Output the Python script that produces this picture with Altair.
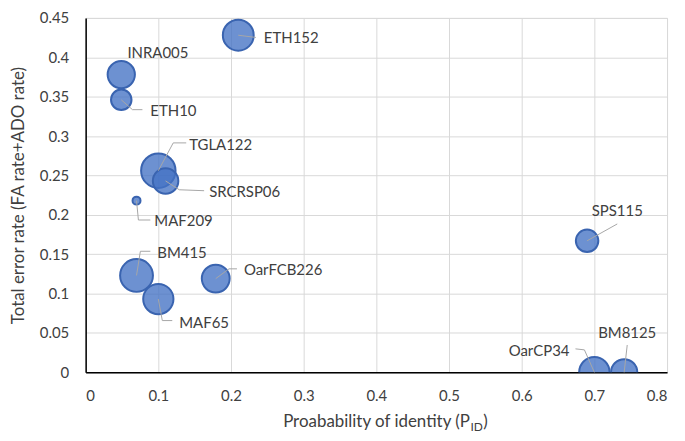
import altair as alt
import pandas as pd

# ---- data ----
markers = ["ETH152", "INRA005", "ETH10", "TGLA122", "SRCRSP06", "MAF209",
           "BM415", "MAF65", "OarFCB226", "SPS115", "OarCP34", "BM8125"]
pid = [0.210, 0.049, 0.049, 0.100, 0.110, 0.070, 0.070, 0.100, 0.179, 0.690, 0.700, 0.741]
err = [0.428, 0.378, 0.346, 0.256, 0.243, 0.218, 0.123, 0.093, 0.119, 0.167, 0.0, 0.0]
bubble = [961, 751, 424, 1197, 655, 64, 1089, 924, 784, 511, 936, 697]

# label anchor positions (data units) and alignment
label_x = [0.2452, 0.0575, 0.0890, 0.1425, 0.1699, 0.0945, 0.0986, 0.1288, 0.2178, 0.7315, 0.6658, 0.7452]
label_y = [0.4239, 0.4054, 0.3322, 0.2888, 0.2293, 0.1916, 0.1520, 0.0632, 0.1301, 0.2045, 0.0273, 0.0496]
label_align = ["left", "left", "left", "left", "left", "left", "left", "left", "left", "center", "right", "center"]

# leader lines: bubble centre -> elbow -> end (data units); None = no leader
elbow_x = [0.2342, None, 0.0644, 0.1205, 0.1288, 0.0726, 0.0753, 0.1055, 0.1973, 0.7315, 0.6863, 0.7452]
elbow_y = [0.4252, None, 0.3335, 0.2913, 0.2318, 0.1934, 0.1537, 0.0657, 0.1314, 0.1884, 0.0285, 0.0347]
end_x = [0.2342, None, 0.0781, 0.1384, 0.1630, 0.0890, 0.0890, 0.1192, 0.2082, 0.7315, 0.6740, 0.7452]
end_y = [0.4252, None, 0.3335, 0.2913, 0.2306, 0.1934, 0.1537, 0.0657, 0.1314, 0.1884, 0.0298, 0.0347]

x_ticks = [0, 0.1, 0.2, 0.3, 0.4, 0.5, 0.6, 0.7, 0.8]
y_ticks = [0, 0.05, 0.1, 0.15, 0.2, 0.25, 0.3, 0.35, 0.4, 0.45]

y_title = "Total error rate (FA rate+ADO rate)"
x_title_main = "Proabability of identity (P"
x_title_sub = "ID"
x_title_end = ")"

FONT = "Lato"
TXT = "#404040"
W, H = 584, 356

# ---- tables ----
df_b = pd.DataFrame({"marker": markers, "pid": pid, "err": err, "bubble": bubble})
df_b = df_b.sort_values("bubble", ascending=False)

df_l = pd.DataFrame({"marker": markers, "lx": label_x, "ly": label_y, "align": label_align})

rows = []
for i, m in enumerate(markers):
    if elbow_x[i] is None:
        continue
    rows.append({"marker": m, "o": 0, "x": pid[i], "y": err[i]})
    rows.append({"marker": m, "o": 1, "x": elbow_x[i], "y": elbow_y[i]})
    rows.append({"marker": m, "o": 2, "x": end_x[i], "y": end_y[i]})
df_lead = pd.DataFrame(rows)

xs = alt.Scale(domain=[0, 0.8], nice=False, zero=False)
ys = alt.Scale(domain=[0, 0.45], nice=False, zero=False)

xaxis = alt.Axis(values=x_ticks, tickCount=len(x_ticks), format="~g", title=None, ticks=False,
                 labelPadding=16, labelOverlap=False,
                 labelFontSize=15, labelFont=FONT, labelColor=TXT, grid=True,
                 gridColor="#D9D9D9", domainColor="#000000", domainWidth=1.5)
yaxis = alt.Axis(values=y_ticks, tickCount=len(y_ticks), format="~g", title=y_title, ticks=False,
                 labelPadding=17, labelOverlap=False,
                 labelFontSize=15, labelFont=FONT, labelColor=TXT, grid=True,
                 gridColor="#D9D9D9", domainColor="#000000", domainWidth=1.5,
                 titleFont=FONT, titleFontSize=17, titleFontWeight="normal", titleColor=TXT,
                 titleX=-67, titleY=H / 2, titleAngle=270, titleAlign="center",
                 titleBaseline="middle")

bubbles = alt.Chart(df_b).mark_circle(
    clip=True, fill="#4472C4", fillOpacity=0.78, stroke="#3A64B0", strokeWidth=2, opacity=1
).encode(
    x=alt.X("pid:Q", scale=xs, axis=xaxis),
    y=alt.Y("err:Q", scale=ys, axis=yaxis),
    size=alt.Size("bubble:Q", scale=None),
)

leaders = alt.Chart(df_lead).mark_line(color="#A6A6A6", strokeWidth=1).encode(
    x=alt.X("x:Q", scale=xs),
    y=alt.Y("y:Q", scale=ys),
    detail="marker:N",
    order="o:Q",
)

def label_layer(al):
    return alt.Chart(df_l[df_l["align"] == al]).mark_text(
        align=al, baseline="middle", font=FONT, fontSize=15, color=TXT
    ).encode(x=alt.X("lx:Q", scale=xs), y=alt.Y("ly:Q", scale=ys), text="marker:N")

labels = label_layer("left") + label_layer("center") + label_layer("right")

TY = H + 55
df_t = pd.DataFrame({"a": [x_title_main], "b": [x_title_sub], "c": [x_title_end]})
t_main = alt.Chart(df_t).mark_text(align="right", baseline="alphabetic", font=FONT,
                                   fontSize=17, color=TXT).encode(
    x=alt.value(386), y=alt.value(TY), text="a:N")
t_sub = alt.Chart(df_t).mark_text(align="left", baseline="alphabetic", font=FONT,
                                  fontSize=12, color=TXT).encode(
    x=alt.value(386.5), y=alt.value(TY + 4), text="b:N")
t_end = alt.Chart(df_t).mark_text(align="left", baseline="alphabetic", font=FONT,
                                  fontSize=17, color=TXT).encode(
    x=alt.value(399.5), y=alt.value(TY), text="c:N")

chart = alt.layer(bubbles, leaders, labels, t_main, t_sub, t_end).properties(
    width=W, height=H,
    autosize=alt.AutoSizeParams(type="none"),
    padding={"left": 78, "top": 9, "right": 10, "bottom": 60},
).configure_view(stroke="#8C8C8C", strokeWidth=1.5).configure(background="white")

chart.save("out.html", embed_options={"renderer": "svg", "actions": False})
